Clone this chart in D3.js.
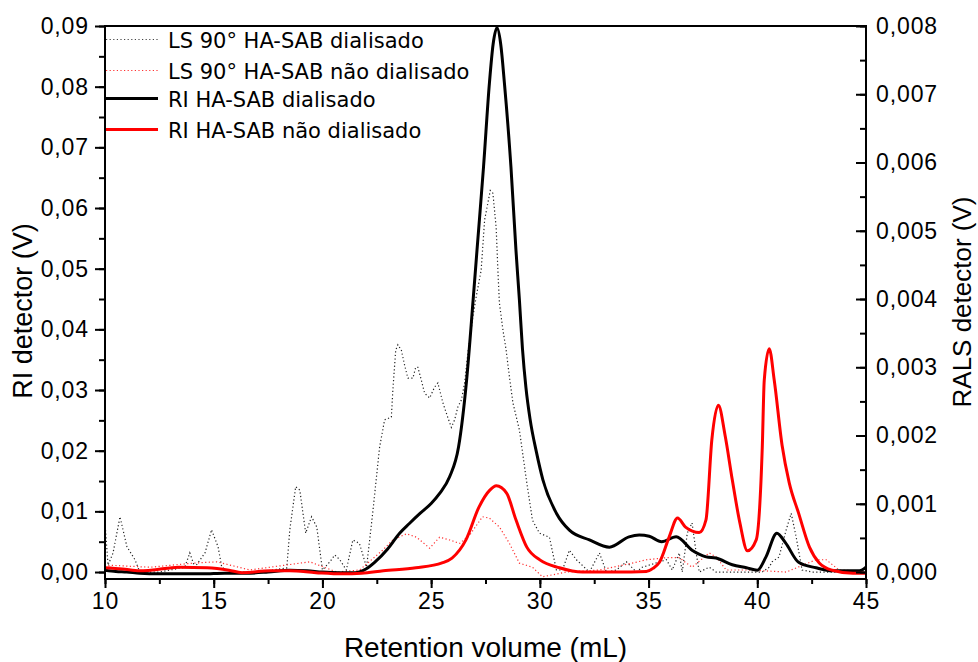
<!DOCTYPE html>
<html><head><meta charset="utf-8">
<script src="https://cdn.jsdelivr.net/npm/d3@7"></script>
<style>body{margin:0;background:#fff}</style>
</head><body>
<svg id="c" width="978" height="662"></svg>
<script>
// Retention volume (mL), RI detector (V) — dialysed sample
const riDialisado = [[10,0.0003],[10.5,0.0001],[11,0],[11.6,-0.0002],[12.5,-0.0003],[13.5,-0.0003],[14.5,-0.0003],[15.5,-0.0002],[16.5,-0.0002],[17.5,0],[18.5,0.0003],[19.3,0.0002],[20,0],[20.8,-0.0001],[21.5,-0.0001],[22,0.0005],[22.4,0.0016],[23,0.0038],[23.55,0.0064],[24,0.008],[24.5,0.0097],[25,0.0113],[25.4,0.013],[25.85,0.0157],[26.26,0.0206],[26.63,0.0316],[26.93,0.0448],[27.11,0.0531],[27.41,0.0668],[27.68,0.0806],[27.85,0.087],[28.03,0.0897],[28.2,0.087],[28.37,0.0806],[28.67,0.0668],[28.9,0.0531],[29.06,0.0448],[29.2,0.0368],[29.36,0.0304],[29.55,0.0252],[29.84,0.0198],[30.14,0.0152],[30.76,0.0097],[31.36,0.0069],[32.28,0.0053],[33.2,0.0041],[34.1,0.0058],[34.57,0.0061],[35.03,0.0059],[35.6,0.005],[36.27,0.0058],[37.0,0.0036],[37.65,0.0025],[38.1,0.0023],[38.85,0.0012],[39.5,0.0007],[40,0.0003],[40.4,0.0025],[40.9,0.0064],[41.3,0.0048],[41.9,0.0016],[42.7,0.0007],[43.45,0.0002],[44.7,0.0002],[45,0.0008]];
// RI detector (V) — non-dialysed sample
const riNaoDialisado = [[10,0.0007],[10.8,0.0005],[11.6,0.0002],[12.1,0.0003],[13.4,0.0008],[14.7,0.0007],[15.7,0.0003],[16.3,-0.0001],[17.6,0.0002],[18.5,0.0002],[19.7,-0.0001],[20.9,-0.0003],[21.8,-0.0002],[22.8,0.0002],[24.3,0.0007],[25.5,0.0015],[25.96,0.0023],[26.6,0.0053],[27.2,0.0107],[27.7,0.0135],[28.0,0.0142],[28.47,0.013],[28.9,0.0086],[29.4,0.0041],[30.0,0.002],[30.9,0.0007],[31.96,0],[33.5,0],[34.9,0.0001],[35.2,0.0006],[35.5,0.0016],[35.95,0.0058],[36.33,0.0089],[36.7,0.0074],[37.33,0.0065],[37.64,0.0086],[37.91,0.0218],[38.21,0.0275],[38.52,0.0225],[38.85,0.0152],[39.2,0.0081],[39.55,0.0035],[39.95,0.0053],[40.23,0.0206],[40.32,0.0316],[40.55,0.0368],[40.78,0.0316],[41.14,0.0209],[41.47,0.0147],[41.9,0.0097],[42.4,0.0041],[42.85,0.0015],[43.45,0.0003],[44.4,-0.0002],[45,-0.0002]];
// RALS detector (V) — LS 90° dialysed
const lsDialisado = [[10,0.00072],[10.14,0.0001],[10.37,0.00028],[10.69,0.00081],[11.01,0.00037],[11.38,0.00018],[11.6,0],[12.5,0],[13.67,0.00007],[13.9,0.00028],[14.13,0.00007],[14.6,0.00028],[14.9,0.00062],[15.2,0.00037],[15.37,0.00007],[15.74,0],[17.1,0],[18.36,0.00006],[18.5,0.00062],[18.77,0.00125],[18.96,0.0012],[19.23,0.00057],[19.5,0.00081],[19.74,0.00066],[20,0.00003],[20.34,0.00015],[20.57,0.00025],[20.8,0.00018],[21.1,0.00003],[21.4,0.00047],[21.7,0.00042],[22.03,0.00007],[22.31,0.00086],[22.63,0.00183],[22.86,0.00223],[23.17,0.00227],[23.24,0.00267],[23.37,0.00325],[23.47,0.00333],[23.63,0.00325],[23.78,0.00303],[23.93,0.00284],[24.16,0.00284],[24.29,0.003],[24.39,0.003],[24.55,0.00281],[24.7,0.00262],[24.93,0.00255],[25.16,0.00271],[25.31,0.00277],[25.54,0.00248],[25.77,0.00226],[25.93,0.00212],[26.08,0.00223],[26.23,0.00242],[26.39,0.00252],[26.54,0.00277],[26.69,0.00321],[26.92,0.00374],[27.07,0.00403],[27.3,0.00442],[27.46,0.00516],[27.72,0.00559],[27.84,0.00555],[27.99,0.00505],[28.07,0.00442],[28.14,0.00394],[28.3,0.00355],[28.45,0.00325],[28.6,0.00286],[28.76,0.00248],[29.06,0.00208],[29.38,0.00135],[29.66,0.00076],[29.98,0.00057],[30.44,0.00051],[30.76,0.00003],[31.04,0.00003],[31.36,0.00032],[31.68,0.00018],[32.28,0],[32.74,0.00028],[33.06,0],[33.52,0.00003],[33.98,0.00015],[34.44,0],[34.71,0.00007],[35.82,0.00018],[36.09,0.00003],[36.41,0.00028],[36.55,0],[36.78,0.00057],[37.0,0.00072],[37.19,0.00028],[37.33,0],[37.79,0.00007],[38.11,0],[40.23,0],[40.55,0.00007],[40.68,0.00015],[41.0,0.00022],[41.33,0.00062],[41.56,0.00086],[41.79,0.00051],[42.06,0.00003],[42.52,0],[45,0]];
// RALS detector (V) — LS 90° non-dialysed
const lsNaoDialisado = [[10,0.00007],[10.23,0.0001],[12.07,0.00007],[14.04,0.00013],[15.14,0.00015],[16.66,0.00003],[19.42,0.00015],[20.66,0],[21.71,0.00003],[22.77,0.00032],[23.23,0.00047],[23.87,0.00056],[24.33,0.00051],[24.93,0.00035],[25.39,0.00051],[25.85,0.00047],[26.31,0.00042],[26.77,0.00054],[27.36,0.00081],[27.68,0.00079],[28.14,0.00066],[28.6,0.00042],[29.06,0.00013],[29.66,0.00007],[30.12,-0.00007],[31.22,0],[32.74,0.00003],[34.25,0.00013],[34.9,0.00018],[35.82,0.00021],[36.41,0.00021],[37.0,0.00007],[37.79,0.00028],[38.11,0.00022],[38.57,0.00003],[39.63,0.00003],[41.33,0],[42.7,0.00018],[43.17,0.00018],[43.76,0.00003],[45,0.00001]];

const xTicks = [10,15,20,25,30,35,40,45];
const yLeftTicks = [0,0.01,0.02,0.03,0.04,0.05,0.06,0.07,0.08,0.09];
const yRightTicks = [0,0.001,0.002,0.003,0.004,0.005,0.006,0.007,0.008];
const legendLabels = ["LS 90° HA-SAB dialisado","LS 90° HA-SAB não dialisado","RI HA-SAB dialisado","RI HA-SAB não dialisado"];
const xTitle = "Retention volume (mL)";
const yLeftTitle = "RI detector (V)";
const yRightTitle = "RALS detector (V)";

const L = 105, R = 866, T = 26, B = 579;
const svg = d3.select("#c");
const x = d3.scaleLinear().domain([10,45]).range([L,R]);
const yL = d3.scaleLinear().domain([-0.00115,0.09]).range([B,T]);
const yR = d3.scaleLinear().domain([-0.000102,0.008]).range([B,T]);
const comma = f => v => d3.format(f)(v).replace(".", ",");
const numFont = "'Liberation Sans', Arial, sans-serif";

svg.append("clipPath").attr("id","clip").append("rect")
  .attr("x",L).attr("y",T).attr("width",R-L).attr("height",B-T);
const plot = svg.append("g").attr("clip-path","url(#clip)");

const lineL = d3.line().x(d=>x(d[0])).y(d=>yL(d[1])).curve(d3.curveMonotoneX);
const lineR = d3.line().x(d=>x(d[0])).y(d=>yR(d[1])).curve(d3.curveLinear);

plot.append("path").datum(lsDialisado).attr("d",lineR).attr("fill","none")
  .attr("stroke","#222").attr("stroke-width",1.2).attr("stroke-dasharray","1.2,2.4");
plot.append("path").datum(lsNaoDialisado).attr("d",lineR).attr("fill","none")
  .attr("stroke","#ff3030").attr("stroke-width",1.2).attr("stroke-dasharray","1.2,2.4");
plot.append("path").datum(riDialisado).attr("d",lineL).attr("fill","none")
  .attr("stroke","#000").attr("stroke-width",3);
plot.append("path").datum(riNaoDialisado).attr("d",lineL).attr("fill","none")
  .attr("stroke","#ff0000").attr("stroke-width",3);

// axes
function styleAxis(g){ g.select(".domain").remove(); g.selectAll("line").attr("stroke","#000").attr("stroke-width",2); }
function styleText(g){ g.selectAll("text").attr("font-family",numFont).attr("font-size",23).attr("letter-spacing","0.9px").attr("fill","#000"); }
const minorX = d3.range(10,45.01,2.5);
const minorL = d3.range(0,0.0901,0.005);
const minorRt = d3.range(0,0.00801,0.0005);

svg.append("g").attr("transform",`translate(0,${B})`)
  .call(d3.axisBottom(x).tickValues(minorX).tickSize(5).tickFormat(""))
  .call(styleAxis);
svg.append("g").attr("transform",`translate(0,${B})`)
  .call(d3.axisBottom(x).tickValues(xTicks).tickSize(9).tickPadding(5).tickFormat(d3.format("d")))
  .call(styleAxis).call(styleText);

svg.append("g").attr("transform",`translate(${L},0)`)
  .call(d3.axisLeft(yL).tickValues(minorL).tickSize(6).tickFormat(""))
  .call(styleAxis);
svg.append("g").attr("transform",`translate(${L},0)`)
  .call(d3.axisLeft(yL).tickValues(yLeftTicks).tickSize(10).tickPadding(6).tickFormat(comma(".2f")))
  .call(styleAxis).call(styleText);

svg.append("g").attr("transform",`translate(${R},0)`)
  .call(d3.axisRight(yR).tickValues(minorRt).tickSize(-6).tickFormat(""))
  .call(styleAxis);
svg.append("g").attr("transform",`translate(${R},0)`)
  .call(d3.axisRight(yR).tickValues(yRightTicks).tickSize(-10).tickPadding(10).tickFormat(comma(".3f")))
  .call(styleAxis).call(styleText);

// frame
svg.append("rect").attr("x",L).attr("y",T).attr("width",R-L).attr("height",B-T)
  .attr("fill","none").attr("stroke","#000").attr("stroke-width",2);

// titles
svg.append("text").attr("x",(L+R)/2).attr("y",657).attr("text-anchor","middle")
  .attr("font-family",numFont).attr("font-size",28).text(xTitle);
svg.append("text").attr("transform",`translate(32,311) rotate(-90)`).attr("text-anchor","middle")
  .attr("font-family",numFont).attr("font-size",27).text(yLeftTitle);
svg.append("text").attr("transform",`translate(971,302) rotate(-90)`).attr("text-anchor","middle")
  .attr("font-family",numFont).attr("font-size",26).text(yRightTitle);

// legend
const legY = [39.5, 70.5, 98.5, 129.5];
const legStyle = [
  {stroke:"#444", w:1.2, dash:"1.2,2.4"},
  {stroke:"#ff3030", w:1.2, dash:"1.2,2.4"},
  {stroke:"#000", w:3, dash:null},
  {stroke:"#ff0000", w:3, dash:null}
];
const leg = svg.append("g");
legendLabels.forEach((t,i)=>{
  leg.append("line").attr("x1",106).attr("x2",158).attr("y1",legY[i]).attr("y2",legY[i])
    .attr("stroke",legStyle[i].stroke).attr("stroke-width",legStyle[i].w)
    .attr("stroke-dasharray",legStyle[i].dash);
  leg.append("text").attr("x",168).attr("y",legY[i]+8.5)
    .attr("font-family","'DejaVu Sans', Verdana, sans-serif").attr("font-size",21).text(t);
});
</script>
</body></html>
